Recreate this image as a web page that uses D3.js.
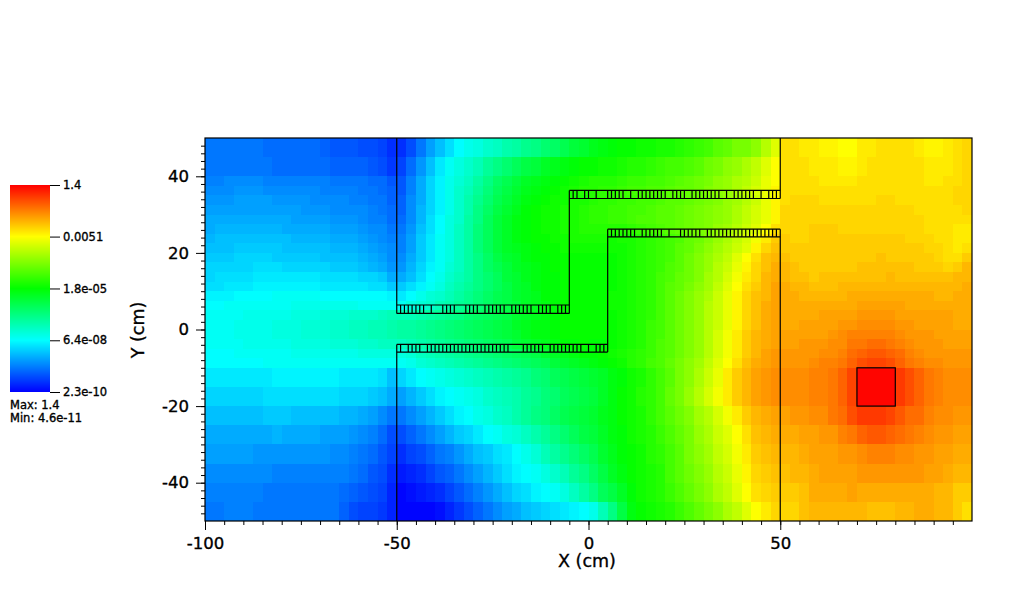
<!DOCTYPE html>
<html>
<head>
<meta charset="utf-8">
<style>
	html, body { margin: 0; padding: 0; background: #fff; }
	text { font-family: "DejaVu Sans", sans-serif; fill: #000; stroke: #000; stroke-width: 0.35px; }
</style>
<script src="https://cdn.jsdelivr.net/npm/d3@7"></script>
</head>
<body>
<div id="canvas"></div>
<script>
var width = 1024,
	height = 613;

// colour bar
var barTicks = [2.3e-10, 6.4e-8, 1.8e-5, 0.0051, 1.4];
var barLabels = ["2.3e-10", "6.4e-08", "1.8e-05", "0.0051", "1.4"];
var barColors = ["#0000ff", "#00ffff", "#00ff00", "#ffff00", "#ff0000"];
var limitLabels = ["Max: 1.4", "Min: 4.6e-11"];

// axes
var xMajor = [-100, -50, 0, 50];
var yMajor = [-40, -20, 0, 20, 40];

// cell edges in cm, columns are 2.5 wide
var xEdges = d3.range(-100, 100.1, 2.5);
var yEdges = [50, 45, 40, 37.5, 35, 32.5, 30, 27.5, 25, 22.5, 20, 17.5, 15, 12.5, 10, 7.5, 5, 2.5, 0, -2.5, -5, -7.5, -10, -15, -20, -25, -30, -35, -40, -45, -50];

// log10(flux) x 10, one row per y band from the top
var fluxExp = [
	[-85,-85,-85,-85,-85,-85,-86,-86,-86,-86,-86,-86,-87,-88,-88,-88,-89,-89,-90,-92, -92,-89,-85,-81,-78,-75,-72,-70,-69,-67,-66,-64,-63,-61,-60,-58,-57,-55,-53,-52,-50,-49, -48,-47,-47,-46,-46,-45,-45,-44,-43,-42,-41,-39,-38,-36,-36,-34,-30,-26, -20,-20,-21,-21,-22,-22,-23,-23,-21,-21,-20,-20,-20,-20,-21,-22,-22,-21,-20,-19],
	[-85,-85,-85,-85,-85,-85,-85,-86,-86,-86,-86,-86,-86,-87,-87,-87,-87,-88,-89,-91, -90,-86,-82,-78,-74,-71,-69,-67,-65,-62,-60,-58,-56,-54,-53,-51,-50,-49,-48,-47,-47,-46, -46,-45,-44,-44,-43,-42,-41,-41,-40,-39,-37,-36,-34,-33,-31,-29,-26,-23, -20,-20,-20,-21,-21,-21,-22,-22,-21,-20,-20,-20,-20,-20,-20,-21,-21,-21,-20,-19],
	[-84,-84,-83,-83,-83,-83,-84,-84,-84,-84,-84,-84,-84,-85,-85,-85,-85,-86,-86,-88, -88,-84,-80,-76,-73,-70,-68,-66,-63,-60,-57,-55,-53,-51,-50,-49,-48,-47,-46,-45,-44,-44, -44,-43,-42,-42,-41,-41,-40,-39,-38,-37,-36,-34,-33,-31,-30,-28,-25,-23, -20,-20,-20,-20,-21,-21,-21,-21,-20,-20,-20,-20,-20,-20,-20,-21,-21,-20,-20,-19],
	[-83,-83,-83,-82,-82,-82,-83,-83,-83,-83,-83,-83,-84,-84,-84,-84,-85,-85,-86,-87, -88,-84,-80,-76,-73,-70,-67,-65,-62,-59,-56,-54,-52,-50,-49,-48,-47,-46,-45,-44,-44,-43, -43,-42,-41,-41,-40,-40,-39,-38,-38,-37,-35,-34,-33,-31,-29,-27,-25,-22, -20,-20,-20,-20,-20,-20,-20,-20,-20,-20,-20,-20,-20,-20,-20,-20,-20,-20,-19,-19],
	[-82,-82,-82,-81,-81,-81,-81,-82,-82,-82,-82,-83,-83,-83,-83,-84,-84,-85,-85,-87, -87,-83,-80,-76,-73,-70,-67,-64,-61,-58,-55,-53,-51,-49,-48,-47,-46,-46,-45,-45,-44,-43, -43,-42,-42,-41,-41,-40,-39,-39,-38,-37,-36,-35,-33,-32,-30,-28,-25,-22, -20,-19,-19,-19,-20,-20,-20,-20,-20,-20,-19,-19,-20,-20,-20,-20,-20,-20,-19,-19],
	[-81,-81,-81,-81,-81,-81,-81,-81,-81,-81,-82,-82,-82,-83,-83,-83,-83,-84,-85,-86, -87,-83,-79,-76,-73,-70,-67,-64,-60,-57,-54,-52,-50,-48,-47,-46,-46,-45,-45,-44,-43,-43, -42,-42,-41,-41,-40,-39,-39,-38,-37,-36,-35,-34,-33,-31,-29,-27,-25,-22, -19,-19,-19,-19,-19,-19,-19,-19,-19,-19,-19,-19,-19,-19,-20,-20,-20,-20,-20,-19],
	[-80,-80,-80,-80,-80,-80,-80,-80,-80,-81,-81,-81,-81,-82,-82,-82,-83,-84,-84,-86, -86,-83,-79,-75,-72,-69,-67,-63,-60,-56,-53,-51,-49,-48,-47,-46,-46,-45,-45,-44,-43,-43, -42,-42,-41,-40,-40,-39,-39,-38,-37,-36,-35,-34,-33,-31,-29,-27,-25,-22, -19,-19,-19,-19,-19,-19,-19,-19,-19,-19,-19,-19,-19,-19,-19,-20,-20,-20,-20,-20],
	[-80,-79,-79,-79,-79,-79,-79,-79,-80,-80,-80,-80,-80,-81,-81,-81,-82,-83,-83,-85, -85,-82,-78,-75,-72,-69,-66,-63,-59,-56,-53,-51,-49,-48,-47,-46,-46,-45,-45,-44,-44,-44, -44,-44,-43,-42,-41,-40,-39,-38,-37,-36,-35,-33,-32,-30,-28,-26,-23,-20, -19,-19,-19,-18,-18,-18,-19,-19,-19,-19,-19,-19,-19,-19,-19,-20,-20,-20,-21,-21],
	[-79,-78,-78,-78,-78,-78,-78,-78,-78,-79,-79,-79,-79,-80,-80,-80,-81,-82,-83,-84, -84,-81,-77,-74,-71,-69,-66,-63,-59,-56,-53,-51,-49,-48,-47,-47,-46,-46,-45,-45,-45,-45, -46,-45,-45,-44,-43,-42,-41,-40,-38,-37,-35,-33,-31,-29,-27,-24,-21,-18, -18,-19,-19,-18,-18,-18,-18,-18,-18,-18,-18,-18,-18,-19,-19,-19,-20,-20,-21,-21],
	[-78,-78,-78,-77,-77,-77,-77,-77,-78,-78,-78,-78,-78,-79,-79,-79,-80,-81,-82,-83, -84,-81,-77,-74,-71,-69,-66,-63,-59,-56,-53,-51,-50,-49,-48,-47,-47,-46,-46,-46,-46,-46, -46,-46,-45,-44,-43,-42,-41,-39,-38,-36,-34,-32,-30,-28,-26,-22,-19,-17, -18,-18,-18,-18,-18,-18,-18,-18,-18,-18,-18,-18,-18,-18,-18,-19,-19,-20,-21,-20],
	[-77,-77,-77,-76,-76,-76,-76,-77,-77,-77,-77,-77,-78,-78,-78,-78,-79,-80,-81,-83, -83,-80,-77,-74,-71,-69,-66,-63,-60,-57,-54,-52,-51,-49,-48,-48,-47,-47,-47,-47,-47,-47, -47,-46,-45,-44,-43,-42,-41,-39,-37,-35,-33,-31,-29,-26,-23,-20,-17,-16, -17,-18,-18,-18,-18,-18,-18,-18,-18,-18,-17,-18,-18,-18,-18,-18,-19,-20,-20,-18],
	[-76,-76,-76,-76,-76,-75,-75,-75,-76,-76,-76,-76,-76,-77,-77,-77,-78,-79,-80,-82, -82,-79,-76,-73,-71,-68,-66,-63,-60,-57,-55,-53,-51,-50,-49,-48,-47,-47,-47,-47,-47,-47, -47,-46,-45,-44,-43,-42,-40,-39,-37,-35,-33,-30,-28,-25,-22,-19,-17,-15, -16,-17,-18,-18,-18,-18,-18,-18,-17,-17,-17,-17,-17,-17,-18,-18,-18,-19,-18,-16],
	[-76,-75,-75,-75,-75,-74,-74,-74,-74,-74,-74,-74,-75,-75,-75,-75,-76,-76,-77,-80, -80,-78,-75,-72,-70,-67,-65,-63,-60,-58,-56,-53,-52,-50,-49,-48,-48,-47,-47,-47,-47,-47, -47,-46,-45,-44,-43,-41,-40,-38,-37,-35,-32,-30,-27,-24,-21,-19,-16,-15, -16,-17,-17,-18,-17,-17,-17,-17,-17,-17,-17,-16,-17,-17,-17,-17,-17,-17,-16,-16],
	[-75,-75,-74,-74,-74,-73,-73,-73,-73,-73,-73,-73,-74,-74,-74,-74,-74,-75,-75,-77, -77,-75,-73,-71,-69,-66,-64,-62,-60,-58,-56,-54,-52,-51,-49,-48,-48,-47,-47,-47,-47,-47, -47,-46,-45,-44,-43,-41,-39,-38,-36,-34,-32,-29,-26,-23,-20,-18,-16,-14, -15,-16,-16,-17,-17,-17,-16,-16,-16,-16,-16,-16,-16,-16,-16,-16,-16,-16,-16,-15],
	[-73,-73,-73,-72,-72,-72,-72,-71,-71,-71,-71,-71,-72,-72,-72,-72,-72,-72,-72,-73, -74,-72,-70,-68,-67,-65,-63,-61,-59,-57,-55,-54,-52,-51,-50,-48,-48,-47,-47,-47,-47,-47, -46,-46,-45,-44,-43,-41,-39,-37,-35,-33,-31,-28,-25,-22,-19,-17,-16,-14, -15,-15,-16,-16,-16,-16,-16,-15,-15,-15,-15,-15,-15,-15,-15,-15,-16,-16,-15,-15],
	[-72,-72,-71,-71,-71,-71,-71,-71,-71,-70,-70,-70,-70,-70,-70,-70,-71,-71,-71,-71, -71,-69,-68,-67,-65,-64,-62,-61,-59,-57,-55,-54,-53,-51,-50,-49,-48,-47,-47,-47,-47,-47, -46,-46,-45,-44,-43,-41,-39,-37,-35,-33,-30,-28,-25,-22,-19,-17,-15,-14, -15,-15,-15,-15,-15,-15,-15,-15,-14,-14,-14,-14,-14,-15,-15,-15,-15,-15,-15,-15],
	[-71,-71,-71,-71,-70,-70,-70,-70,-70,-69,-69,-69,-68,-68,-68,-67,-67,-67,-66,-65, -65,-65,-64,-63,-62,-61,-60,-58,-57,-56,-55,-54,-52,-51,-50,-49,-48,-47,-47,-47,-47,-47, -47,-46,-45,-44,-43,-41,-39,-37,-35,-33,-30,-28,-25,-22,-19,-17,-15,-14, -15,-15,-15,-15,-14,-14,-14,-14,-13,-13,-13,-13,-14,-14,-14,-14,-14,-14,-15,-15],
	[-71,-71,-71,-70,-70,-70,-70,-69,-69,-69,-68,-68,-68,-67,-67,-66,-66,-65,-65,-64, -63,-63,-62,-61,-60,-59,-58,-57,-56,-55,-54,-53,-51,-50,-49,-49,-48,-47,-47,-47,-47,-47, -47,-46,-45,-44,-42,-41,-39,-37,-35,-33,-30,-28,-25,-22,-19,-17,-15,-14, -15,-15,-14,-14,-14,-14,-13,-13,-12,-12,-12,-12,-13,-13,-14,-14,-14,-14,-15,-15],
	[-71,-71,-71,-70,-70,-70,-70,-69,-69,-69,-68,-68,-68,-67,-67,-66,-66,-65,-65,-64, -63,-63,-62,-61,-60,-59,-58,-57,-56,-55,-54,-53,-52,-50,-49,-49,-48,-47,-47,-47,-47,-47, -47,-46,-45,-44,-42,-41,-39,-37,-35,-33,-30,-27,-24,-21,-18,-16,-15,-14, -14,-14,-14,-14,-14,-13,-12,-11,-11,-11,-11,-11,-12,-13,-13,-13,-14,-14,-14,-14],
	[-71,-71,-71,-71,-70,-70,-70,-70,-70,-69,-69,-69,-69,-68,-68,-68,-67,-67,-66,-66, -66,-65,-64,-63,-62,-61,-60,-59,-58,-57,-56,-55,-53,-52,-51,-50,-49,-48,-48,-47,-48,-48, -47,-46,-45,-44,-42,-40,-39,-37,-35,-33,-30,-27,-24,-21,-18,-16,-15,-14, -14,-14,-13,-13,-13,-12,-12,-10,-10,-9,-9,-10,-11,-12,-13,-13,-13,-14,-14,-14],
	[-72,-72,-72,-71,-71,-71,-71,-71,-71,-70,-70,-70,-70,-70,-70,-70,-69,-69,-69,-69, -69,-68,-66,-65,-64,-63,-62,-61,-60,-59,-58,-57,-56,-55,-54,-52,-51,-50,-49,-48,-48,-47, -46,-45,-44,-43,-42,-40,-39,-37,-35,-33,-30,-27,-24,-21,-18,-16,-14,-13, -13,-13,-13,-13,-12,-12,-11,-9,-8,-7,-7,-8,-9,-11,-12,-13,-13,-13,-13,-13],
	[-72,-72,-72,-72,-72,-72,-71,-71,-71,-71,-71,-71,-71,-71,-71,-71,-71,-71,-71,-71, -71,-70,-68,-67,-66,-65,-64,-63,-62,-61,-60,-59,-58,-57,-56,-55,-53,-52,-51,-50,-49,-48, -47,-46,-44,-43,-41,-40,-38,-36,-34,-32,-29,-26,-23,-20,-17,-15,-14,-13, -13,-13,-13,-12,-11,-11,-10,-8,-6,-5,-5,-6,-8,-10,-11,-12,-12,-13,-13,-13],
	[-74,-74,-74,-74,-74,-74,-74,-73,-73,-73,-73,-73,-73,-73,-74,-74,-74,-74,-75,-78, -76,-74,-72,-71,-70,-69,-68,-67,-66,-65,-64,-63,-62,-61,-59,-58,-56,-55,-54,-53,-52,-51, -49,-48,-46,-45,-43,-41,-39,-36,-34,-31,-28,-25,-21,-18,-16,-14,-13,-12, -12,-12,-12,-11,-11,-10,-8,-5,1,1,1,1,-4,-6,-8,-10,-11,-12,-12,-12],
	[-76,-76,-76,-76,-76,-76,-75,-75,-75,-75,-75,-75,-75,-75,-76,-76,-76,-77,-78,-80, -81,-79,-77,-75,-73,-72,-71,-70,-69,-67,-66,-65,-64,-62,-61,-59,-58,-56,-55,-54,-53,-51, -49,-47,-46,-44,-43,-41,-38,-36,-33,-30,-27,-24,-21,-18,-16,-14,-13,-12, -12,-12,-12,-11,-11,-10,-8,-5,1,1,1,1,-4,-6,-8,-10,-11,-12,-12,-12],
	[-78,-78,-78,-78,-78,-78,-77,-77,-77,-78,-78,-78,-78,-78,-79,-79,-80,-81,-83,-85, -85,-83,-81,-79,-77,-75,-73,-72,-70,-69,-67,-66,-64,-62,-60,-59,-57,-55,-54,-53,-52,-50, -49,-47,-46,-45,-43,-41,-39,-37,-35,-32,-30,-27,-24,-21,-18,-16,-15,-14, -14,-13,-13,-12,-12,-10,-9,-6,-4,-4,-4,-5,-7,-9,-9,-11,-12,-12,-13,-13],
	[-80,-80,-80,-80,-80,-80,-80,-79,-80,-80,-80,-80,-81,-81,-81,-82,-83,-84,-86,-89, -89,-87,-85,-83,-81,-79,-77,-76,-74,-72,-71,-69,-68,-66,-64,-62,-60,-58,-56,-54,-53,-51, -49,-48,-46,-45,-44,-42,-40,-38,-36,-33,-31,-28,-26,-23,-20,-17,-16,-15, -15,-15,-14,-14,-13,-13,-11,-10,-8,-7,-7,-8,-9,-10,-11,-12,-13,-13,-14,-14],
	[-81,-81,-81,-81,-81,-82,-82,-82,-82,-82,-82,-82,-82,-83,-83,-84,-85,-86,-88,-90, -92,-90,-89,-87,-85,-84,-82,-80,-78,-77,-75,-74,-72,-70,-68,-65,-63,-61,-59,-57,-55,-52, -50,-48,-47,-46,-44,-43,-41,-39,-36,-34,-32,-29,-27,-24,-21,-18,-17,-16, -16,-16,-15,-14,-14,-14,-13,-13,-12,-11,-11,-11,-12,-12,-13,-13,-14,-14,-15,-15],
	[-83,-83,-83,-83,-83,-83,-83,-84,-84,-84,-84,-84,-84,-84,-84,-85,-86,-88,-89,-92, -94,-93,-92,-90,-88,-87,-85,-83,-81,-79,-77,-75,-73,-72,-71,-69,-67,-65,-62,-60,-57,-54, -51,-49,-47,-46,-45,-44,-41,-39,-37,-35,-33,-30,-28,-25,-22,-19,-18,-17, -17,-16,-16,-15,-14,-14,-14,-14,-13,-13,-13,-13,-13,-13,-13,-14,-14,-15,-16,-16],
	[-84,-84,-84,-84,-84,-84,-85,-85,-85,-85,-85,-85,-85,-85,-86,-87,-88,-89,-90,-93, -96,-95,-94,-93,-92,-90,-88,-86,-84,-82,-80,-78,-76,-75,-73,-72,-71,-69,-66,-63,-60,-56, -54,-51,-48,-46,-45,-44,-42,-40,-38,-36,-34,-31,-29,-26,-23,-20,-19,-18, -18,-18,-17,-15,-15,-15,-15,-14,-15,-15,-15,-15,-15,-15,-15,-15,-16,-16,-18,-18],
	[-85,-85,-84,-84,-84,-85,-85,-85,-85,-85,-85,-85,-85,-85,-87,-89,-90,-90,-91,-93, -96,-96,-96,-96,-95,-93,-91,-89,-87,-85,-83,-81,-80,-78,-77,-76,-75,-74,-73,-72,-70,-65, -60,-54,-49,-47,-46,-45,-44,-42,-40,-38,-36,-34,-31,-29,-26,-23,-21,-19, -19,-19,-17,-16,-16,-16,-16,-16,-16,-17,-17,-17,-16,-16,-15,-15,-16,-16,-18,-20]
];

// duct walls and the source box, [x1, y1, x2, y2] in cm
var wallLines = [
	[-50, 50, -50, 4.2], [-50, -3.9, -50, -50],
	[-50, 6.4, -5, 6.4], [-50, 4.2, -5, 4.2],
	[-50, -3.9, 5, -3.9], [-50, -5.9, 5, -5.9],
	[-5, 4.2, -5, 36.3], [5, -5.9, 5, 26.2],
	[-5, 36.3, 50, 36.3], [-5, 34.2, 50, 34.2],
	[5, 26.2, 50, 26.2], [5, 24.2, 50, 24.2],
	[50, 50, 50, 34.2], [50, 26.2, 50, -50]
];
var sourceBox = [70, 80, -20, -10];

// mesh divisions inside the ducts, cm along each leg
var lowerLegOffsets = [1,3,4,5,6,8,9,10,11,12,13,14,15,16,17,18,19,20,21,22,23,24,25,26,27,28,29,33,34,35,36,37,38,40,41,42,43,44,45,46,47,48,50,52,53,54];
var upperLegOffsets = [1,2,3,4,5,6,7,9,12,13,14,15,18,19,20,21,23,24,25,26,27,28,30,31,32,33,34,35,37,38,39,40,42,43,44];
var topLegOffsets = [1,2,4,5,7,10,11,12,13,14,16,18,19,20,21,22,23,24,25,27,28,29,30,32,33,34,35,36,37,38,39,41,43,44,45,46,47,48,50,52,53,54];
var midLegOffsets = [1,2,3,4,5,6,7,9,10,11,12,13,14,16,19,20,21,22,23,24,26,27,28,29,30,31,32,33,34,35,36,37,38,39,40,41,42,43,44];
var ductLegs = [
	{ start: -50, y1: 4.2, y2: 6.4, offsets: upperLegOffsets },
	{ start: -50, y1: -5.9, y2: -3.9, offsets: lowerLegOffsets },
	{ start: -5, y1: 34.2, y2: 36.3, offsets: topLegOffsets },
	{ start: 5, y1: 24.2, y2: 26.2, offsets: midLegOffsets }
];

var svg = d3.select("#canvas")
	.append("svg")
		.attr("width", width)
		.attr("height", height)
		.style("display", "block")
		.style("background-color", "#fff");

var x = d3.scaleLinear().domain([-100, 100]).range([205, 972]);
var y = d3.scaleLinear().domain([-50, 50]).range([521, 138]);
var color = d3.scaleLog().domain(barTicks).range(barColors).clamp(true);

// cells
var cells = [];
fluxExp.forEach(function(row, r){
	row.forEach(function(v, c){
		cells.push({ r: r, c: c, flux: Math.pow(10, v / 10) });
	});
});

svg.append("g")
	.attr("shape-rendering", "crispEdges")
	.selectAll("rect")
	.data(cells)
	.enter()
	.append("rect")
		.attr("x", function(d){ return x(xEdges[d.c]); })
		.attr("y", function(d){ return y(yEdges[d.r]); })
		.attr("width", function(d){ return x(xEdges[d.c + 1]) - x(xEdges[d.c]); })
		.attr("height", function(d){ return y(yEdges[d.r + 1]) - y(yEdges[d.r]); })
		.attr("fill", function(d){ return color(d.flux); });

// walls
var mesh = svg.append("g")
	.attr("stroke", "#000")
	.attr("stroke-width", 1.2)
	.attr("fill", "none");

mesh.selectAll("line.wall")
	.data(wallLines)
	.enter()
	.append("line")
		.classed("wall", true)
		.attr("x1", function(d){ return x(d[0]); })
		.attr("y1", function(d){ return y(d[1]); })
		.attr("x2", function(d){ return x(d[2]); })
		.attr("y2", function(d){ return y(d[3]); });

ductLegs.forEach(function(leg){
	mesh.selectAll(null)
		.data(leg.offsets)
		.enter()
		.append("line")
			.attr("x1", function(d){ return x(leg.start + d); })
			.attr("x2", function(d){ return x(leg.start + d); })
			.attr("y1", y(leg.y1))
			.attr("y2", y(leg.y2));
});

mesh.append("rect")
	.attr("x", x(sourceBox[0]))
	.attr("y", y(sourceBox[3]))
	.attr("width", x(sourceBox[1]) - x(sourceBox[0]))
	.attr("height", y(sourceBox[2]) - y(sourceBox[3]));

mesh.append("rect")
	.attr("x", x(-100))
	.attr("y", y(50))
	.attr("width", x(100) - x(-100))
	.attr("height", y(-50) - y(50));

// axes, the minor ones have no labels
var xMinorAxis = d3.axisBottom(x).tickValues(d3.range(-95, 100, 5)).tickSize(4).tickFormat("");
var yMinorAxis = d3.axisLeft(y).tickValues(d3.range(-48, 50, 2)).tickSize(4).tickFormat("");
var xAxis = d3.axisBottom(x).tickValues(xMajor).tickSize(9).tickPadding(7).tickFormat(d3.format("d"));
var yAxis = d3.axisLeft(y).tickValues(yMajor).tickSize(9).tickPadding(7).tickFormat(d3.format("d"));

function drawAxis(axis, translate, labelled){
	var g = svg.append("g").attr("transform", translate).call(axis);
	g.select(".domain").remove();
	g.selectAll("line").attr("stroke", "#000");
	if(labelled){
		g.selectAll("text")
			.style("font-family", "'DejaVu Sans', sans-serif")
			.style("font-size", "16.5px")
			.text(function(d){ return d3.format("d")(d).replace("\u2212", "-"); });
	} else {
		g.selectAll("text").remove();
	}
}

drawAxis(xMinorAxis, "translate(0,521)", false);
drawAxis(yMinorAxis, "translate(205,0)", false);
drawAxis(xAxis, "translate(0,521)", true);
drawAxis(yAxis, "translate(205,0)", true);

svg.append("text")
	.attr("x", 587)
	.attr("y", 567)
	.attr("text-anchor", "middle")
	.style("font-size", "17.5px")
	.text("X (cm)");

svg.append("text")
	.attr("transform", "translate(144,330) rotate(-90)")
	.attr("text-anchor", "middle")
	.style("font-size", "17.5px")
	.text("Y (cm)");

// colour bar
var barY = d3.scaleLog().domain([barTicks[0], barTicks[4]]).range([392, 185]);
var barG = svg.append("g").attr("shape-rendering", "crispEdges");

barG.selectAll("rect")
	.data(d3.range(185, 392))
	.enter()
	.append("rect")
		.attr("x", 10)
		.attr("y", function(d){ return d; })
		.attr("width", 40)
		.attr("height", 1)
		.attr("fill", function(d){ return color(barY.invert(d + 0.5)); });

var barAxis = d3.axisRight(barY)
	.tickValues(barTicks)
	.tickSize(10)
	.tickPadding(3)
	.tickFormat(function(d, i){ return barLabels[i]; });

var barAxisG = svg.append("g")
	.attr("transform", "translate(50,0)")
	.call(barAxis);
barAxisG.select(".domain").remove();
barAxisG.selectAll("line").attr("stroke", "#000");
barAxisG.selectAll("text")
	.style("font-family", "'DejaVu Sans', sans-serif")
	.style("font-size", "11.5px");

svg.selectAll("text.limit")
	.data(limitLabels)
	.enter()
	.append("text")
		.classed("limit", true)
		.attr("x", 10)
		.attr("y", function(d, i){ return 409 + i * 13; })
		.style("font-size", "11.5px")
		.text(function(d){ return d; });
</script>
</body>
</html>
